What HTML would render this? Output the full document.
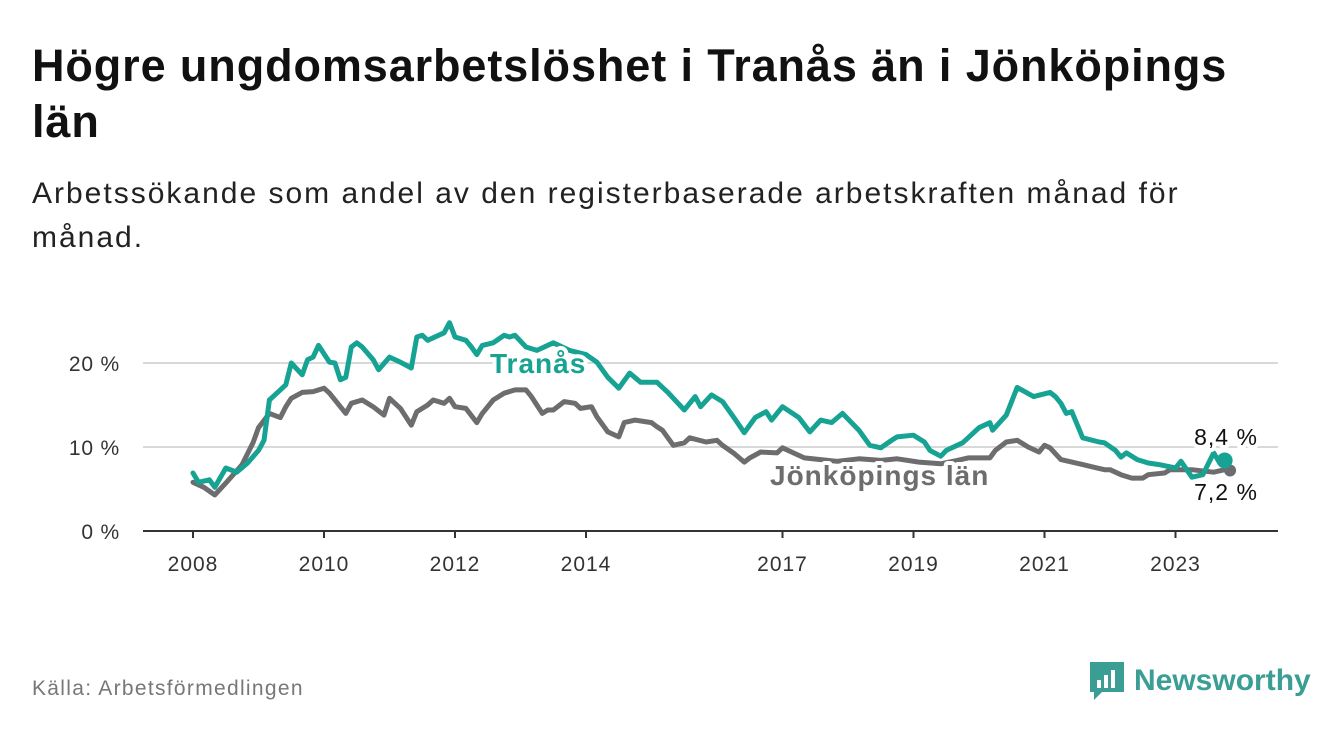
<!DOCTYPE html>
<html><head><meta charset="utf-8"><style>
body{margin:0;width:1340px;height:734px;background:#fff;font-family:"Liberation Sans",sans-serif;overflow:hidden;position:relative}
h1{position:absolute;left:32px;top:38px;margin:0;font-size:45px;letter-spacing:0.9px;line-height:56px;font-weight:bold;color:#111;width:1270px}
.sub{position:absolute;left:32px;top:172px;font-size:30px;letter-spacing:2px;line-height:44px;color:#222;width:1200px}
.src{position:absolute;left:32px;top:677px;font-size:21px;letter-spacing:1.3px;color:#777}
.logo{position:absolute;left:1088px;top:660px;display:flex;align-items:center;gap:8px;color:#3a9e95;font-size:30px;font-weight:bold}
</style></head><body>
<h1>Högre ungdomsarbetslöshet i Tranås än i Jönköpings län</h1>
<div class="sub">Arbetssökande som andel av den registerbaserade arbetskraften månad för månad.</div>
<svg id="chart" width="1340" height="734" style="position:absolute;left:0;top:0" xmlns="http://www.w3.org/2000/svg"></svg>
<div class="src">Källa: Arbetsförmedlingen</div>
<div class="logo">
<svg width="38" height="42" viewBox="0 0 38 42"><path d="M2 2h34v30H14l-8 8v-8H2z" fill="#3a9e95"/><rect x="9" y="20" width="4" height="8" fill="#fff"/><rect x="16" y="15" width="4" height="13" fill="#fff"/><rect x="23" y="10" width="4" height="18" fill="#fff"/></svg>
<span>Newsworthy</span></div>
<script>
const months=[0,1,3,4,6,8,10,12,13,14,16,17,18,20,21,22,23,25,26,27,28,29,30,31,33,34,36,38,40,41,42,43,45,46,47,48,50,51,52,53,55,57,58,59,61,63,66,69,72,74,76,78,80,82,85,87,90,92,93,95,97,99,101,103,105,106,108,111,113,115,117,119,122,124,126,128,129,132,134,135,137,138,141,142,144,146,146.5,149,151,154,157,158,159,160,161,163,166,167,169,170,171,173,175,177,180,181,183,185,187,188,189];
const tranas=[6.9,5.8,6.1,5.2,7.5,7.0,8.1,9.6,10.8,15.6,16.8,17.4,20.0,18.6,20.4,20.7,22.1,20.1,20.0,18.0,18.3,21.9,22.4,21.9,20.4,19.2,20.7,20.1,19.4,23.1,23.3,22.7,23.3,23.6,24.8,23.1,22.7,21.9,21.0,22.1,22.4,23.3,23.1,23.3,21.9,21.5,22.4,21.5,21.0,20.1,18.3,17.0,18.8,17.7,17.7,16.5,14.4,16.0,14.8,16.2,15.4,13.6,11.7,13.5,14.2,13.2,14.8,13.5,11.8,13.2,12.9,14.0,12.0,10.2,9.9,10.8,11.2,11.4,10.6,9.6,8.9,9.6,10.5,11.1,12.3,12.9,12.0,13.8,17.1,16.0,16.5,16.0,15.2,14.0,14.2,11.1,10.6,10.5,9.6,8.8,9.3,8.5,8.1,7.9,7.5,8.3,6.4,6.7,9.3,8.2,8.4];
const monthsJ=[0,2,4,6,9,11,12,14,16,17,18,20,22,24,25,28,29,31,33,35,36,38,40,41,43,44,46,47,48,50,52,53,55,57,59,61,62,64,65,66,68,70,71,73,74,76,78,79,81,84,85,86,88,90,91,94,96,97,99,101,102,104,107,108,110,112,115,118,122,126,129,133,137,140,142,146,147,149,151,153,155,156,157,159,161,163,165,167,168,170,172,174,175,178,179,183,187,189,190];
const jonkoping=[5.8,5.2,4.3,5.7,7.9,10.5,12.3,14.0,13.5,14.8,15.8,16.5,16.6,17.0,16.4,14.0,15.2,15.6,14.8,13.8,15.8,14.6,12.6,14.2,15.0,15.6,15.2,15.8,14.8,14.6,12.9,14.0,15.6,16.4,16.8,16.8,16.0,14.0,14.4,14.4,15.4,15.2,14.6,14.8,13.6,11.8,11.2,12.9,13.2,12.9,12.4,12.0,10.2,10.5,11.1,10.6,10.8,10.2,9.3,8.2,8.7,9.4,9.3,9.9,9.3,8.7,8.5,8.3,8.6,8.4,8.6,8.2,8.0,8.4,8.7,8.7,9.6,10.6,10.8,10.0,9.4,10.2,9.9,8.5,8.2,7.9,7.6,7.3,7.3,6.7,6.3,6.3,6.7,6.9,7.3,7.3,7.0,7.3,7.2];
const yTicks=[0,10,20];
const yTickLabels=["0 %","10 %","20 %"];
const xTickYears=[2008,2010,2012,2014,2017,2019,2021,2023];

const NS="http://www.w3.org/2000/svg";
const svg=document.getElementById('chart');
const X=m=>193+m*65.5/12;
const XY=y=>X((y-2008)*12);
const Y=v=>531-v*8.4;
function mk(t,a){const e=document.createElementNS(NS,t);for(const k in a)e.setAttribute(k,a[k]);svg.appendChild(e);return e;}
yTicks.forEach((t,i)=>{
  if(t>0){const g=mk('line',{x1:143,x2:1278,y1:Y(t),y2:Y(t),stroke:'#d9d9d9','stroke-width':2});
  
  }
  const l=mk('text',{x:120,y:Y(t)+8,'text-anchor':'end','font-size':21,'letter-spacing':0.8,fill:'#333','font-family':'Liberation Sans'});
  l.textContent=yTickLabels[i];
  
  
});
const ax=mk('line',{x1:143,x2:1278,y1:531,y2:531,stroke:'#333','stroke-width':2});


xTickYears.forEach(y=>{
  const t=mk('line',{x1:XY(y),x2:XY(y),y1:531,y2:538,stroke:'#333','stroke-width':2});
  
  
  const l=mk('text',{x:XY(y),y:571,'text-anchor':'middle','font-size':21,'letter-spacing':1,fill:'#333','font-family':'Liberation Sans'});
  l.textContent=y;
  
  
});
function line(ms,vs,col,name){
  const d=ms.map((m,i)=>(i?'L':'M')+X(m).toFixed(1)+','+Y(vs[i]).toFixed(1)).join('');
  const p=mk('path',{d:d,fill:'none',stroke:col,'stroke-width':5,'stroke-linejoin':'round','stroke-linecap':'round'});
  
  
}
line(monthsJ,jonkoping,'#6d6c6e','jonkoping-line');
line(months,tranas,'#17a393','tranas-line');
const dj=mk('circle',{cx:X(monthsJ[monthsJ.length-1]),cy:Y(jonkoping[jonkoping.length-1]),r:6,fill:'#6d6c6e'});


const dt=mk('circle',{cx:X(months[months.length-1]),cy:Y(tranas[tranas.length-1]),r:8,fill:'#17a393'});


function lab(x,y,txt,col,bold,size,anchor,name){
  const t=mk('text',{x:x,y:y,'text-anchor':anchor,'font-size':size,'letter-spacing':1,fill:col,'font-weight':bold?'bold':'normal',stroke:'#fff','stroke-width':8,'paint-order':'stroke','stroke-linejoin':'round','font-family':'Liberation Sans'});
  t.textContent=txt;
  
  
}
lab(490,373,'Tranås','#17a393',true,28,'start','tranas-label');
lab(770,485,'Jönköpings län','#6d6c6e',true,28,'start','jonkoping-label');
lab(1226,445,'8,4 %','#111',false,23,'middle','tranas-value-label');
lab(1226,500,'7,2 %','#111',false,23,'middle','jonkoping-value-label');
</script>
</body></html>
